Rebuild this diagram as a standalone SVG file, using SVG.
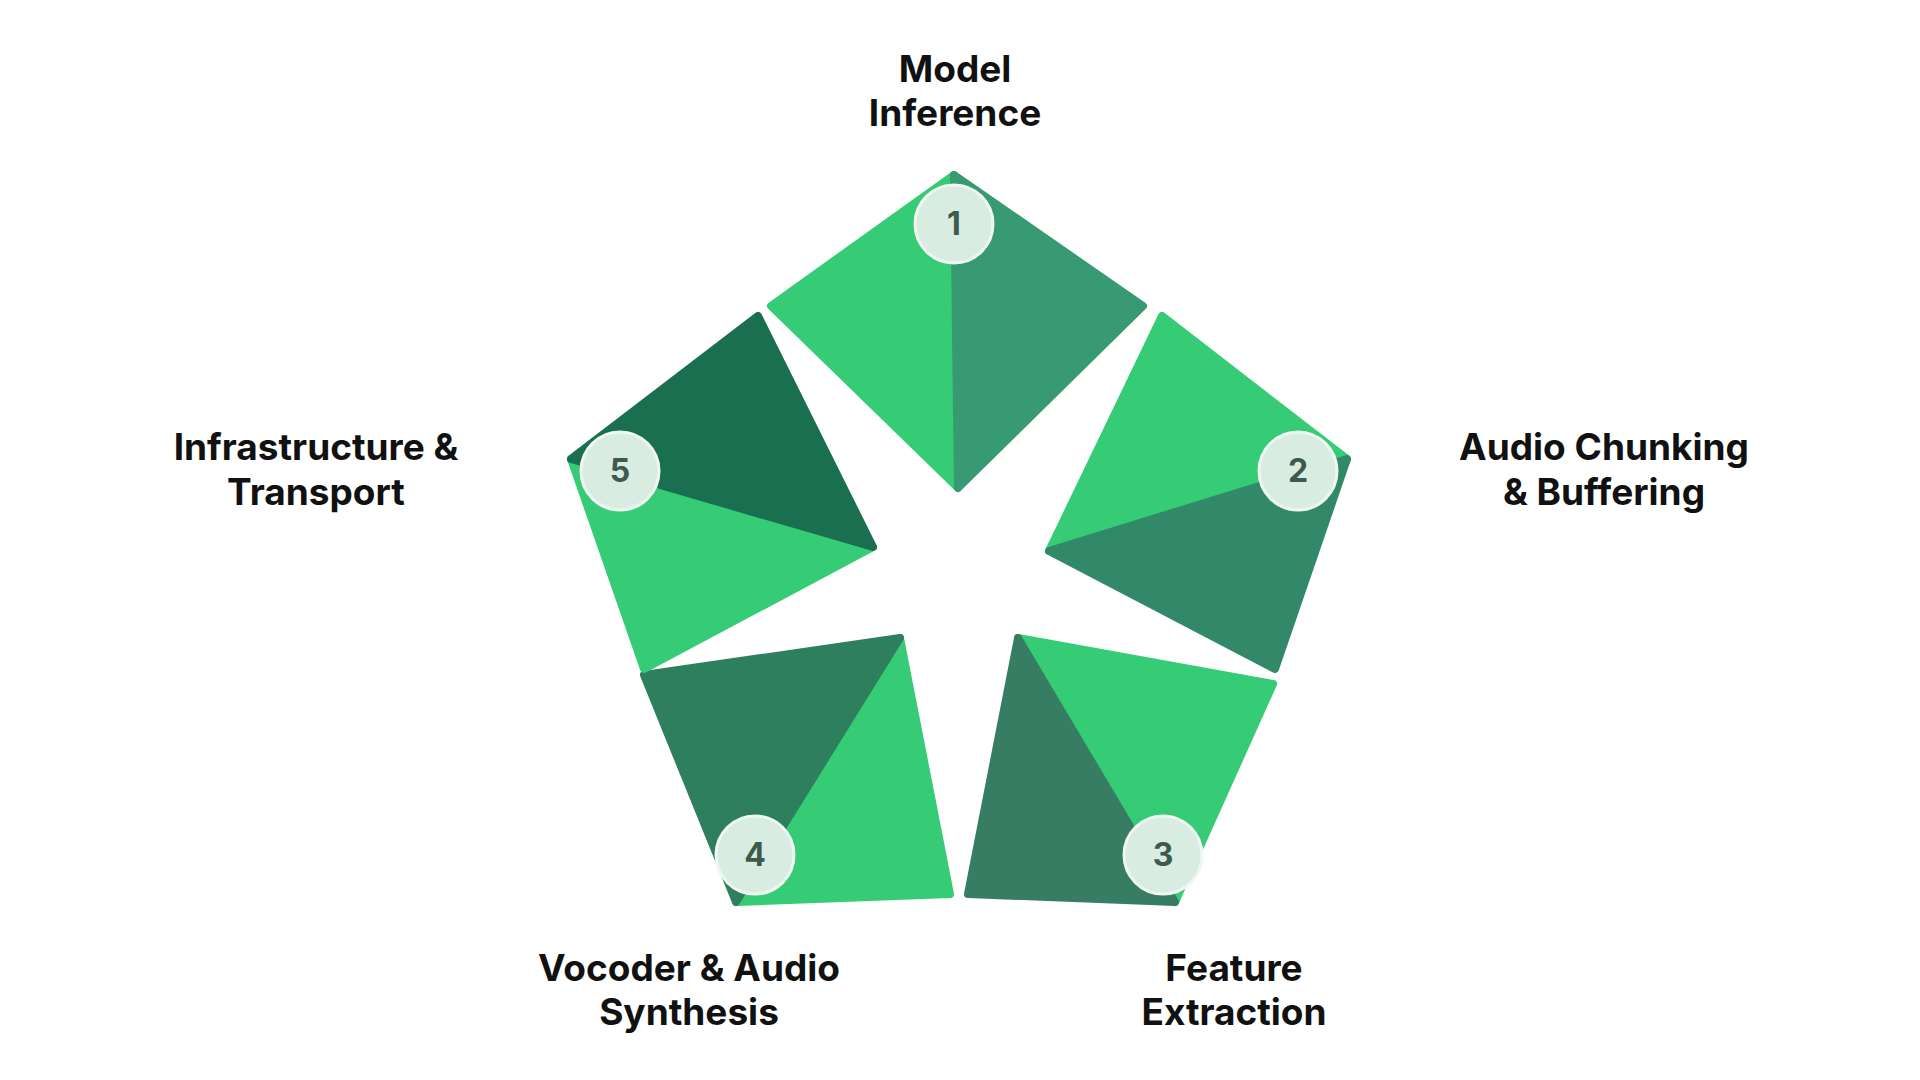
<svg xmlns="http://www.w3.org/2000/svg" width="1920" height="1080" viewBox="0 0 1920 1080">
<style>
.lbl{font-family:Inter,"Liberation Sans",sans-serif;font-weight:700;font-size:37px;fill:#111;text-anchor:middle}
.num{font-family:Inter,"Liberation Sans",sans-serif;font-weight:700;font-size:32px;fill:#3d5a4c;text-anchor:middle}
.b{fill:#d8ece2;stroke:#eef7f2;stroke-width:3}
.lt{fill:#36cc76;stroke:#36cc76;stroke-width:8;stroke-linejoin:round}
.dk{stroke-width:8;stroke-linejoin:round}
</style>
<rect width="1920" height="1080" fill="#fff"/>
<g id="seg1"><polygon class="lt" points="954,175 771,306 958,488"/><polygon class="dk" fill="#379a72" stroke="#379a72" points="954,175 1143,306 958,488"/></g>
<g id="seg2"><polygon class="lt" points="1347,459 1162,316 1049,551"/><polygon class="dk" fill="#31896a" stroke="#31896a" points="1347,459 1275,669 1049,551"/></g>
<g id="seg3"><polygon class="lt" points="1175,902 1273,684 1018,638"/><polygon class="dk" fill="#377d64" stroke="#377d64" points="1175,902 968,894 1018,638"/></g>
<g id="seg4"><polygon class="lt" points="736,902 950,894 900,638"/><polygon class="dk" fill="#2d7f5d" stroke="#2d7f5d" points="736,902 644,675 900,638"/></g>
<g id="seg5"><polygon class="lt" fill="#34c274" stroke="#34c274" points="571,459 644,669 873,547"/><polygon class="dk" fill="#1a6f50" stroke="#1a6f50" points="571,459 758,316 873,547"/></g>
<g id="n1"><circle class="b" cx="954" cy="224" r="39"/><text class="num" x="954" y="235">1</text><text class="lbl" x="955" y="82">Model</text><text class="lbl" x="955" y="126">Inference</text></g>
<g id="n2"><circle class="b" cx="1298" cy="471" r="39"/><text class="num" x="1298" y="482">2</text><text class="lbl" x="1604" y="460">Audio Chunking</text><text class="lbl" x="1604" y="505">&amp; Buffering</text></g>
<g id="n3"><circle class="b" cx="1163" cy="855" r="39"/><text class="num" x="1163" y="866">3</text><text class="lbl" x="1234" y="981">Feature</text><text class="lbl" x="1234" y="1025">Extraction</text></g>
<g id="n4"><circle class="b" cx="755" cy="855" r="39"/><text class="num" x="755" y="866">4</text><text class="lbl" x="689" y="981">Vocoder &amp; Audio</text><text class="lbl" x="689" y="1025">Synthesis</text></g>
<g id="n5"><circle class="b" cx="620" cy="471" r="39"/><text class="num" x="620" y="482">5</text><text class="lbl" x="316" y="460">Infrastructure &amp;</text><text class="lbl" x="316" y="505">Transport</text></g>
<g id="connectors"/>
</svg>
